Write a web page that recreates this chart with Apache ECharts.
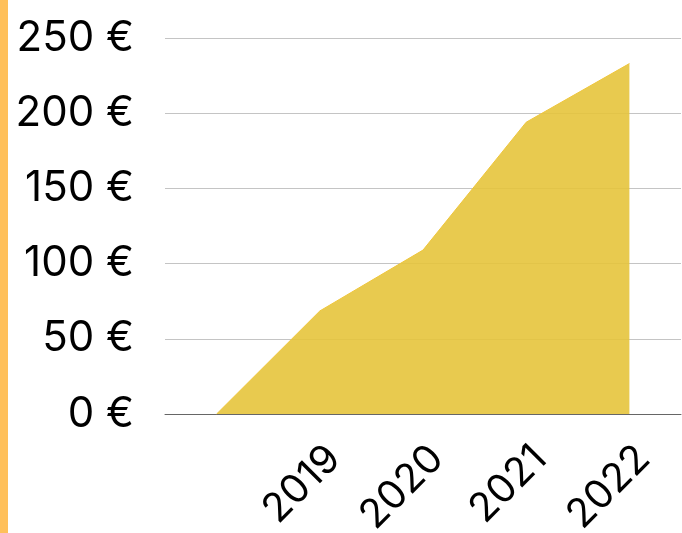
<!DOCTYPE html>
<html>
<head>
<meta charset="utf-8">
<script src="https://cdn.jsdelivr.net/npm/echarts@6/dist/echarts.min.js"></script>
<style>
html,body{margin:0;padding:0;background:#fff;}
#chart{width:682px;height:533px;}
</style>
</head>
<body>
<div id="chart"></div>
<script>
var categories = ['', '2019', '2020', '2021', '2022'];
var values = [0, 68.5, 109, 194, 233];
var yTicks = { min: 0, max: 250, interval: 50 };

var chart = echarts.init(document.getElementById('chart'));
chart.setOption({
  animation: false,
  graphic: [{
    type: 'rect', left: 0, top: 0,
    shape: { width: 8, height: 533 },
    style: { fill: '#FFC05A' }
  }],
  grid: { left: 165, right: 1, top: 38, bottom: 119, containLabel: false, outerBoundsMode: 'none' },
  xAxis: {
    type: 'category',
    data: categories,
    boundaryGap: true,
    axisLine: { show: true, lineStyle: { color: '#666', width: 1 } },
    axisTick: { show: false },
    axisLabel: {
      rotate: 45, margin: 24, interval: 0, verticalAlign: 'top',
      color: '#000', fontSize: 40, fontFamily: 'Inter', fontWeight: 'normal'
    },
    splitLine: { show: false }
  },
  yAxis: {
    type: 'value',
    min: yTicks.min, max: yTicks.max, interval: yTicks.interval,
    axisLine: { show: false },
    axisTick: { show: false },
    axisLabel: {
      margin: 31, color: '#000', fontSize: 42, fontFamily: 'Inter', fontWeight: 'normal',
      padding: [0, 0, 8, 0],
      formatter: function (v) { return v + ' €'; }
    },
    splitLine: { lineStyle: { color: '#c4c4c4', width: 1 } }
  },
  series: [{
    type: 'line',
    data: values,
    symbol: 'none',
    lineStyle: { color: '#EFC63C', width: 1 },
    areaStyle: { color: '#E6C43C', opacity: 0.9 }
  }]
});
</script>
</body>
</html>
